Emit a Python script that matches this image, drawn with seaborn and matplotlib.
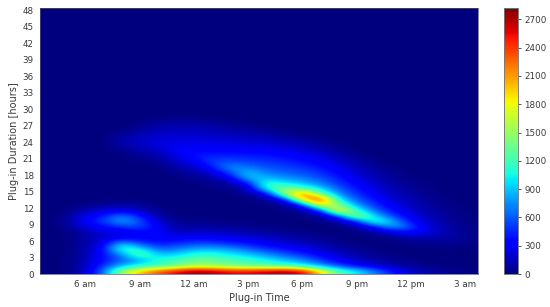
"""Plug-in time vs plug-in duration density, drawn with seaborn."""
import matplotlib
matplotlib.use("Agg")
import matplotlib.pyplot as plt
import pandas as pd
import seaborn as sns

# one list per plug-in hour (4 ... 28), one value per duration hour from 0.5 up,
# anything not typed is zero
plugin_hours = list(range(4, 29))
counts_by_hour = [
    [0],
    [10, 10, 10, 5, 5, 5, 10, 10, 40, 60, 40, 10],
    [180, 150, 130, 120, 110, 90, 110, 90, 220, 340, 300, 150, 40],
    [650, 480, 380, 380, 340, 260, 210, 220, 340, 500, 430, 220, 70, 10],
    [1550, 850, 620, 700, 1200, 980, 300, 230, 450, 830, 740, 300, 100, 20, 0, 0, 0, 0, 0, 0, 0, 0, 40, 100, 110, 50, 10],
    [2000, 1100, 800, 1350, 1120, 550, 330, 320, 540, 600, 430, 200, 70, 10, 0, 0, 0, 0, 0, 0, 20, 60, 110, 170, 170, 120, 60, 10],
    [2350, 1200, 1100, 950, 620, 420, 330, 330, 340, 220, 110, 50, 10, 0, 0, 0, 0, 0, 0, 10, 50, 110, 170, 230, 230, 180, 120, 70, 20],
    [2600, 1350, 1200, 950, 700, 470, 310, 170, 100, 50, 20, 0, 0, 0, 0, 0, 0, 10, 40, 100, 170, 240, 300, 280, 230, 190, 140, 90, 30],
    [2820, 1550, 1350, 1150, 850, 560, 350, 200, 100, 40, 10, 0, 0, 0, 0, 0, 10, 40, 100, 180, 300, 420, 340, 280, 230, 190, 140, 90, 30],
    [2750, 1500, 1350, 1150, 880, 550, 320, 200, 90, 30, 0, 0, 0, 0, 0, 10, 40, 100, 220, 420, 540, 430, 330, 270, 220, 170, 120, 60, 10],
    [2600, 1400, 1250, 1050, 800, 480, 300, 170, 70, 20, 0, 0, 0, 0, 10, 30, 80, 250, 600, 760, 540, 420, 340, 270, 200, 150, 90, 30],
    [2600, 1350, 1180, 950, 650, 400, 250, 130, 50, 10, 0, 0, 0, 10, 40, 120, 400, 950, 900, 650, 510, 420, 320, 250, 180, 120, 60, 10],
    [2700, 1300, 1050, 780, 500, 320, 200, 100, 30, 0, 0, 0, 10, 50, 220, 1100, 1200, 850, 680, 570, 480, 400, 310, 230, 160, 90, 30],
    [2800, 1250, 900, 620, 400, 250, 130, 60, 10, 0, 0, 10, 60, 200, 1500, 1500, 1000, 760, 620, 520, 440, 360, 270, 190, 120, 50, 10],
    [2650, 1100, 750, 480, 300, 180, 90, 40, 0, 0, 10, 60, 300, 1900, 2400, 1300, 880, 680, 560, 470, 380, 310, 220, 140, 80, 20],
    [1950, 800, 520, 330, 200, 110, 50, 10, 0, 10, 60, 350, 1900, 2600, 1400, 950, 700, 560, 470, 380, 310, 230, 150, 80, 30],
    [1300, 550, 320, 200, 110, 50, 10, 0, 0, 70, 450, 2100, 1500, 1000, 750, 600, 490, 410, 330, 270, 200, 130, 70, 30],
    [1050, 350, 190, 100, 50, 20, 0, 10, 70, 350, 1650, 1150, 780, 600, 480, 400, 320, 260, 200, 150, 100, 50, 10],
    [720, 220, 110, 50, 20, 0, 10, 60, 300, 1300, 950, 650, 480, 390, 300, 240, 190, 140, 100, 60, 30],
    [420, 120, 60, 20, 0, 10, 30, 180, 850, 850, 520, 370, 280, 220, 170, 130, 90, 60, 40, 10],
    [200, 70, 20, 0, 0, 20, 70, 350, 550, 360, 270, 200, 160, 120, 90, 60, 40, 20],
    [100, 30, 0, 0, 10, 30, 110, 230, 220, 170, 140, 110, 80, 60, 40, 20, 10],
    [50, 10, 0, 0, 10, 40, 100, 120, 100, 80, 60, 50, 30, 20, 10],
    [20, 0, 0, 0, 10, 30, 50, 50, 40, 30, 20, 10],
    [10, 0, 0, 0, 0, 10, 20, 20, 10],
]

x_tick_hours = [6, 9, 12, 15, 18, 21, 24, 27]
x_tick_labels = ["6 am", "9 am", "12 am", "3 pm", "6 pm", "9 pm", "12 pm", "3 am"]
y_ticks = list(range(0, 49, 3))
cbar_ticks = list(range(0, 2701, 300))

VMAX = 2820
TEXT = "#3a3a3a"


def main() -> None:
    sns.set_style("white")
    plt.rcParams["font.family"] = "DejaVu Sans"

    grid = (pd.DataFrame(counts_by_hour, index=plugin_hours).T
            .reindex(range(49)).fillna(0))

    fig = plt.figure(figsize=(5.5, 3.07), dpi=100)
    ax = fig.add_axes([40 / 550, 1 - 274 / 307, 438 / 550, 266 / 307])
    cax = fig.add_axes([504 / 550, 1 - 274 / 307, 14 / 550, 266 / 307])

    sns.heatmap(grid, ax=ax, cbar_ax=cax, cmap="jet", vmin=0, vmax=VMAX,
                xticklabels=False, yticklabels=False)
    # same table and scale, only smoothed the way the original image is
    mesh = ax.collections[0]
    mesh.set_visible(False)
    ax.imshow(grid.values, origin="lower", aspect="auto", cmap="jet",
              norm=mesh.norm, interpolation="bicubic",
              extent=(0, grid.shape[1], 0, grid.shape[0]))

    ax.set_xlim(0, 24.2)
    ax.set_ylim(0, 48.4)
    ax.set_xticks([h - 3.5 for h in x_tick_hours], x_tick_labels)
    ax.set_yticks(y_ticks, [str(v) for v in y_ticks], rotation=0)
    ax.tick_params(length=2.5, width=0.6, labelsize=6.3, colors=TEXT, pad=2)
    ax.set_xlabel("Plug-in Time", fontsize=7, color=TEXT, labelpad=2.5)
    ax.set_ylabel("Plug-in Duration [hours]", fontsize=7, color=TEXT, labelpad=2.5)
    for spine in ax.spines.values():
        spine.set_visible(True)
        spine.set_linewidth(0.5)
        spine.set_color("#55557a")

    cax.set_yticks(cbar_ticks, [str(v) for v in cbar_ticks])
    cax.tick_params(length=2.5, width=0.6, labelsize=6.3, colors=TEXT, pad=2,
                    left=False, right=True)
    for spine in cax.spines.values():
        spine.set_visible(True)
        spine.set_linewidth(0.5)
        spine.set_color("#777777")

    fig.savefig("out.png", dpi=100)
    plt.close(fig)


if __name__ == "__main__":
    main()
